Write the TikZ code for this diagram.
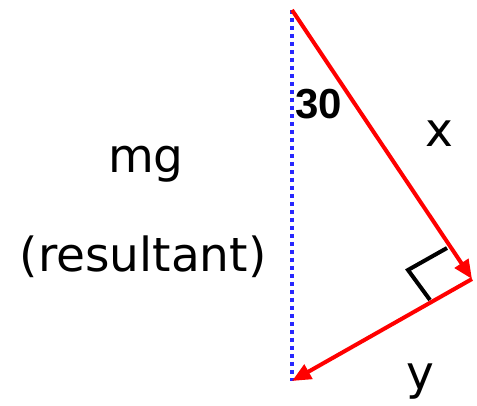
\documentclass[tikz,border=0pt]{standalone}
\usepackage{fontspec}
\setmainfont{DejaVu Sans}
\newfontfamily\numfont{Liberation Sans}
\usetikzlibrary{arrows.meta}
\definecolor{dotblue}{RGB}{40,40,255}
\begin{document}
\begin{tikzpicture}[x=1pt,y=-1pt,
  vec/.style={draw=red, line width=4pt, -{Triangle[length=19pt,width=16pt]}},
  resline/.style={draw=dotblue, line width=4.5pt, dash pattern=on 4pt off 4pt},
  lbl/.style={font=\fontsize{47}{50}\selectfont, inner sep=0pt, anchor=base}]
\useasboundingbox (0,0) rectangle (477,406);
\coordinate (top) at (292,10);
\coordinate (rv) at (472,279);
\coordinate (bot) at (292,381);
\coordinate (ra1) at (447,248);
\coordinate (ra2) at (408,270);
\coordinate (ra3) at (430,300);
\draw[resline] (top) -- (bot);
\draw[line width=4pt] (ra1) -- (ra2) -- (ra3);
\draw[vec] (top) -- (rv);
\draw[vec] (rv) -- (bot);
\node[inner sep=0pt, anchor=base west, font=\numfont\fontsize{42}{44}\selectfont\bfseries] (ang) at (295,119) {30};
\node[lbl] (xl) at (439,147) {x};
\node[lbl] (yl) at (420,389) {y};
\node[lbl] (mg) at (146,173) {mg};
\node[lbl] (res) at (143,272) {(resultant)};
\end{tikzpicture}
\end{document}
